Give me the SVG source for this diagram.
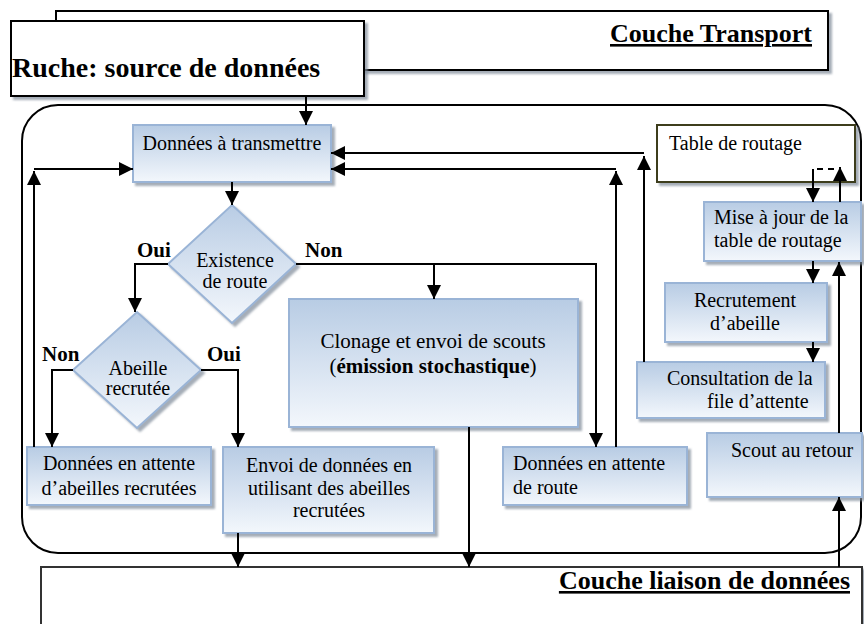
<svg xmlns="http://www.w3.org/2000/svg" width="864" height="624" viewBox="0 0 864 624">
  <defs>
    <linearGradient id="nodeFill" x1="0" y1="0" x2="0" y2="1">
      <stop offset="0" stop-color="#b8cce4"/>
      <stop offset="1" stop-color="#f3f7fc"/>
    </linearGradient>
    <filter id="shadow" x="-10%" y="-10%" width="130%" height="140%">
      <feDropShadow dx="3" dy="3" stdDeviation="1.2" flood-color="#7f8a99" flood-opacity="0.7"/>
    </filter>
    <marker id="arrow" markerUnits="userSpaceOnUse" markerWidth="14" markerHeight="14" viewBox="0 0 14 14" refX="14" refY="7" orient="auto">
      <path d="M0,0 L14,7 L0,14 Z" fill="#000"/>
    </marker>
  </defs>
  <style>
    .node { fill: url(#nodeFill); stroke: #9ab4d6; stroke-width: 2; filter: url(#shadow); }
    .layer { fill: #fff; stroke: #000; stroke-width: 2; filter: url(#shadow); }
    .lbl { font-family: "Liberation Serif", "Times New Roman", serif; font-size: 20px; fill: #000; }
    .mid { text-anchor: middle; }
    .bold { font-weight: bold; }
    .title { font-family: "Liberation Serif", "Times New Roman", serif; font-weight: bold; font-size: 26px; text-decoration: underline; text-anchor: end; }
    .wire { fill: none; stroke: #000; stroke-width: 2; }
    .arr { marker-end: url(#arrow); }
  </style>

  <rect width="864" height="624" fill="#fff"/>

  <!-- transport layer and data source -->
  <g id="couche-transport">
    <rect class="layer" x="56" y="11" width="772" height="59"/>
    <text class="title" x="812" y="42">Couche Transport</text>
  </g>
  <g id="ruche">
    <rect class="layer" x="11" y="21" width="353" height="75"/>
    <text class="lbl bold" x="12" y="77" style="font-size:28px">Ruche: source de données</text>
  </g>

  <!-- node container -->
  <rect id="conteneur" x="22" y="105" width="839" height="448" rx="36" ry="36" fill="none" stroke="#000" stroke-width="2"/>

  <!-- data link layer -->
  <g id="couche-liaison">
    <rect class="layer" x="41" y="567" width="821" height="80" style="stroke:#333"/>
    <text class="title" x="850" y="589">Couche liaison de données</text>
  </g>

  <g id="donnees-a-transmettre">
    <rect class="node" x="133" y="125" width="198" height="57"/>
    <text class="lbl mid" x="232" y="150">Données à transmettre</text>
  </g>

  <g id="existence-route">
    <path class="node" d="M232,205 L296,264 L232,323 L168,264 Z"/>
    <text class="lbl mid" x="235" y="267">Existence</text>
    <text class="lbl mid" x="235" y="288">de route</text>
  </g>

  <g id="abeille-recrutee">
    <path class="node" d="M137,312 L201,370 L137,428 L73,370 Z"/>
    <text class="lbl mid" x="138" y="375">Abeille</text>
    <text class="lbl mid" x="138" y="395">recrutée</text>
  </g>

  <g id="clonage">
    <rect class="node" x="289" y="299" width="289" height="128"/>
    <text class="lbl mid" x="433" y="348" style="font-size:21px">Clonage et envoi de scouts</text>
    <text class="lbl mid" x="433" y="373" style="font-size:21px">(<tspan class="bold">émission stochastique</tspan>)</text>
  </g>

  <g id="attente-abeilles">
    <rect class="node" x="27" y="447" width="184" height="58"/>
    <text class="lbl mid" x="119" y="470">Données en attente</text>
    <text class="lbl mid" x="119" y="495">d’abeilles recrutées</text>
  </g>

  <g id="envoi-donnees">
    <rect class="node" x="223" y="447" width="211" height="86"/>
    <text class="lbl mid" x="329" y="472">Envoi de données en</text>
    <text class="lbl mid" x="329" y="495">utilisant des abeilles</text>
    <text class="lbl mid" x="329" y="517">recrutées</text>
  </g>

  <g id="attente-route">
    <rect class="node" x="503" y="447" width="184" height="58"/>
    <text class="lbl" x="513" y="470">Données en attente</text>
    <text class="lbl" x="513" y="494">de route</text>
  </g>

  <g id="table-routage">
    <rect x="657" y="125" width="198" height="57" fill="#fff" stroke="#3c3c1c" stroke-width="2" filter="url(#shadow)"/>
    <text class="lbl" x="669" y="150">Table de routage</text>
  </g>

  <g id="mise-a-jour">
    <rect class="node" x="704" y="202" width="157" height="59"/>
    <text class="lbl" x="714" y="224">Mise à jour de la</text>
    <text class="lbl" x="714" y="247">table de routage</text>
  </g>

  <g id="recrutement">
    <rect class="node" x="665" y="283" width="162" height="59"/>
    <text class="lbl mid" x="745" y="307">Recrutement</text>
    <text class="lbl mid" x="745" y="330">d’abeille</text>
  </g>

  <g id="consultation">
    <rect class="node" x="637" y="362" width="188" height="56"/>
    <text class="lbl" x="667" y="385">Consultation de la</text>
    <text class="lbl" x="707" y="408">file d’attente</text>
  </g>

  <g id="scout-retour">
    <rect class="node" x="707" y="433" width="155" height="64"/>
    <text class="lbl" x="731" y="457">Scout au retour</text>
  </g>

  <!-- decision labels -->
  <g id="etiquettes" class="lbl bold" style="font-size:21px">
    <text x="137" y="257">Oui</text>
    <text x="305" y="257">Non</text>
    <text x="42" y="361">Non</text>
    <text x="207" y="361">Oui</text>
  </g>

  <!-- connectors -->
  <g id="connecteurs">
    <path class="wire arr" d="M306,96 V125"/>
    <path class="wire arr" d="M232,182 V205"/>
    <path class="wire arr" d="M168,264 H135 V312"/>
    <path class="wire arr" d="M296,264 H596 V447"/>
    <path class="wire arr" d="M434,264 V299"/>
    <path class="wire arr" d="M73,370 H52 V447"/>
    <path class="wire arr" d="M201,370 H238 V447"/>
    <path class="wire arr" d="M34,447 V171"/>
    <path class="wire arr" d="M34,169 H133"/>
    <path class="wire arr" d="M616,447 V171"/>
    <path class="wire arr" d="M616,169 H331"/>
    <path class="wire arr" d="M644,362 V156"/>
    <path class="wire arr" d="M644,153 H331"/>
    <path class="wire arr" d="M238,533 V567"/>
    <path class="wire arr" d="M469,427 V567"/>
    <path class="wire arr" d="M839,567 V497"/>
    <path class="wire arr" d="M839,433 V262"/>
    <path class="wire arr" d="M813,261 V283"/>
    <path class="wire arr" d="M813,342 V362"/>
    <path class="wire" d="M834,169 H813" stroke-dasharray="6,5"/>
    <path class="wire arr" d="M813,169 V202"/>
    <path class="wire arr" d="M840,202 V167"/>
  </g>
</svg>
